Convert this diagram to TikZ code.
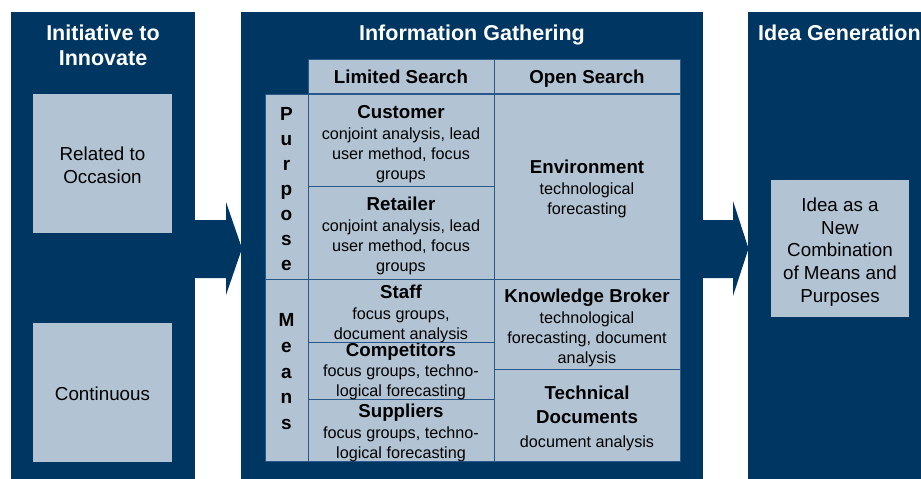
\documentclass[tikz,border=0pt]{standalone}
\usepackage{fontspec}
\setmainfont{Liberation Sans}
\definecolor{navy}{RGB}{0,54,98}
\definecolor{pale}{RGB}{178,196,212}
\definecolor{gridline}{RGB}{40,88,138}
\newcommand{\ctitle}{\bfseries\fontsize{18.7}{21}\selectfont}
\newcommand{\topgap}[1]{\rule{0pt}{#1}}
\begin{document}
\begin{tikzpicture}[x=1pt,y=-1pt,
  panel/.style={fill=navy, draw=none, anchor=north west, inner sep=0pt, outer sep=0pt},
  pbox/.style={fill=pale, draw=none, anchor=north west, inner sep=0pt, outer sep=0pt,
    align=center, font=\fontsize{18.8}{22.7}\selectfont},
  cell/.style={fill=pale, draw=gridline, line width=0.9pt, anchor=north west,
    inner sep=0pt, outer sep=0pt, align=center, font=\fontsize{16.2}{20}\selectfont},
  head/.style={cell, font=\bfseries\fontsize{18.7}{21}\selectfont, text height=18pt, text depth=2.6pt},
  vert/.style={cell, font=\bfseries\fontsize{19}{25}\selectfont},
  ptitle/.style={text=white, font=\bfseries\fontsize{21.5}{25}\selectfont, align=center, inner sep=0pt},
  blockarrow/.style={fill=navy, draw=none}]
\useasboundingbox (0,0) rectangle (921,479);

% panels
\node[panel, minimum width=184, minimum height=468] (left) at (11,12) {};
\node[panel, minimum width=462, minimum height=468] (mid) at (241,12) {};
\node[panel, minimum width=180, minimum height=468] (right) at (748,12) {};

% titles
\node[ptitle] (lefttitle) at (103,45.5) {Initiative to\\Innovate};
\node[ptitle] (midtitle) at (472,35) {Information Gathering};
\node[ptitle, anchor=west] (righttitle) at (758,33) {Idea Generation};

% left boxes
\node[pbox, minimum width=139, minimum height=139] (occasion) at (33,94) {\topgap{16.7pt}Related to\\Occasion};
\node[pbox, minimum width=139, minimum height=139] (continuous) at (33,323) {\topgap{15.7pt}Continuous};

% right box
\node[pbox, minimum width=138, minimum height=137] (idea) at (771,180)
  {\topgap{20.7pt}Idea as a\\New\\Combination\\of Means and\\Purposes};

% block arrows between the panels
\fill[blockarrow] (194,220) -- (226,220) -- (226,202) -- (242,248.5) -- (226,295) -- (226,278) -- (194,278) -- cycle;
\fill[blockarrow] (702,220) -- (733,220) -- (733,201) -- (748.5,248.5) -- (733,296) -- (733,278) -- (702,278) -- cycle;

% table header
\node[head, minimum width=186, minimum height=34] (limited) at (308,59) {Limited Search};
\node[head, minimum width=186, minimum height=34] (open) at (494,59) {Open Search};

% row labels
\node[vert, minimum width=43, minimum height=185] (purpose) at (265,94) {\topgap{17.6pt}P\\u\\r\\p\\o\\s\\e};
\node[vert, minimum width=43, minimum height=182, font=\bfseries\fontsize{19}{25.7}\selectfont] (means) at (265,279) {\topgap{16.6pt}M\\e\\a\\n\\s};

% limited search cells (drawn bottom-up so that descenders stay visible)
\node[cell, minimum width=186, minimum height=64] (suppliers) at (308,397)
  {\topgap{20pt}{\ctitle Suppliers}\\[1pt]focus groups, techno-\\logical forecasting};
\node[cell, minimum width=186, minimum height=57] (competitors) at (308,340)
  {\topgap{16.5pt}{\ctitle Competitors}\\focus groups, techno-\\logical forecasting};
\node[cell, minimum width=186, minimum height=61] (staff) at (308,279)
  {\topgap{19.5pt}{\ctitle Staff}\\[1pt]focus groups,\\document analysis};
\node[cell, minimum width=186, minimum height=93] (retailer) at (308,186)
  {\topgap{20pt}{\ctitle Retailer}\\[1pt]conjoint analysis, lead\\user method, focus\\groups};
\node[cell, minimum width=186, minimum height=92] (customer) at (308,94)
  {\topgap{20.5pt}{\ctitle Customer}\\[1pt]conjoint analysis, lead\\user method, focus\\groups};

% open search cells
\node[cell, minimum width=186, minimum height=92] (techdocs) at (494,369)
  {\topgap{21pt}{\ctitle Technical}\\[4pt]{\ctitle Documents}\\[4pt]document analysis};
\node[cell, minimum width=186, minimum height=90] (broker) at (494,279)
  {\topgap{21pt}{\ctitle Knowledge Broker}\\[1pt]technological\\forecasting, document\\analysis};
\node[cell, minimum width=186, minimum height=185] (environment) at (494,94)
  {\topgap{19pt}{\ctitle Environment}\\[1pt]technological\\forecasting};
\end{tikzpicture}
\end{document}
